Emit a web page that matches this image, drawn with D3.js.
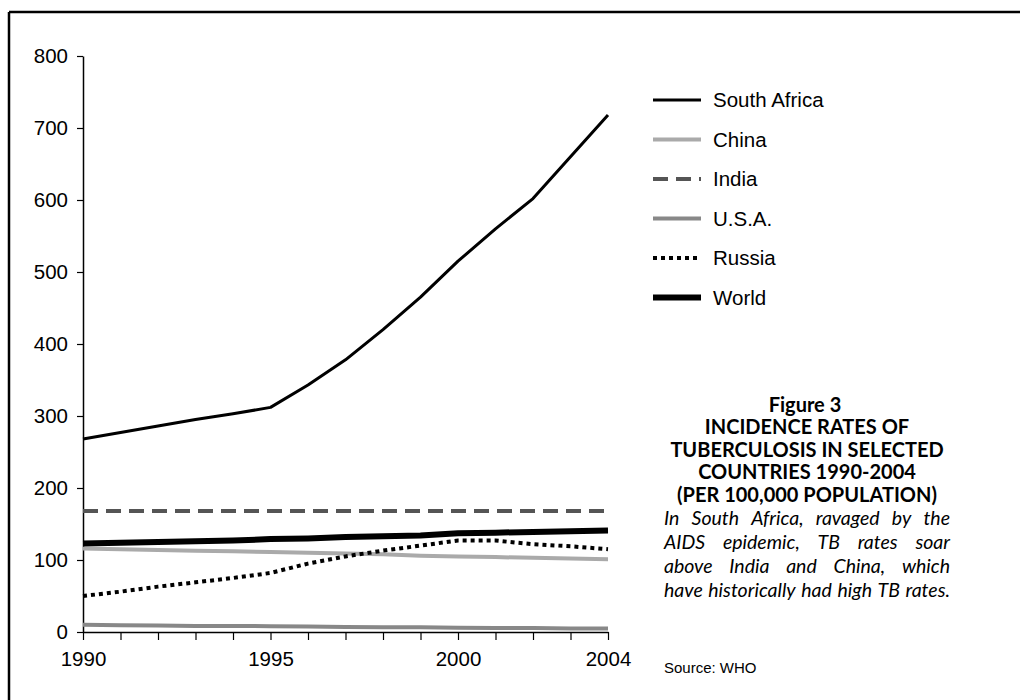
<!DOCTYPE html>
<html><head><meta charset="utf-8">
<script src="https://cdn.jsdelivr.net/npm/d3@7/dist/d3.min.js"></script>
<style>body{margin:0;background:#fff}svg{display:block}</style>
</head><body><svg id="c" width="1020" height="700"></svg>
<script>
const years = [1990,1991,1992,1993,1994,1995,1996,1997,1998,1999,2000,2001,2002,2003,2004];
const southAfrica = [268,277,286,295,303,312,343,378,420,465,515,560,602,660,718];
const china = [116,115,114,113,112,111,110,109,108,106,105,104,103,102,101];
const india = [168,168,168,168,168,168,168,168,168,168,168,168,168,168,168];
const usa = [10,9.5,9,8.5,8.5,8,7.5,7,6.5,6.5,6,5.5,5.5,5,5];
const russia = [50,56,63,69,75,82,95,105,113,120,127,127,122,119,115];
const world = [123,124,125,126,127,129,130,132,133,134,137,138,139,140,141];
const yTicks = [0,100,200,300,400,500,600,700,800];
const xTickLabels = [1990,1995,2000,2004];
const seriesNames = ["South Africa","China","India","U.S.A.","Russia","World"];
const titleLines = ["INCIDENCE RATES OF","TUBERCULOSIS IN SELECTED","COUNTRIES 1990-2004","(PER 100,000 POPULATION)"];
const captionLines = ["In South Africa, ravaged by the","AIDS epidemic, TB rates soar","above India and China, which","have historically had high TB rates."];

const svg = d3.select("#c");
const styles = {
  "South Africa": {stroke:"#000", w:3, dash:null},
  "China": {stroke:"#aaaaaa", w:4, dash:null},
  "India": {stroke:"#555555", w:4, dash:"15,8"},
  "U.S.A.": {stroke:"#888888", w:4, dash:null},
  "Russia": {stroke:"#000", w:4, dash:"4,4"},
  "World": {stroke:"#000", w:6, dash:null}
};
const values = {"South Africa":southAfrica,"China":china,"India":india,"U.S.A.":usa,"Russia":russia,"World":world};

// frame
svg.append("line").attr("x1",9).attr("y1",12).attr("x2",1020).attr("y2",12).attr("stroke","#000").attr("stroke-width",2.5);
svg.append("line").attr("x1",9).attr("y1",12).attr("x2",9).attr("y2",700).attr("stroke","#000").attr("stroke-width",2.5);

const x = d3.scaleLinear().domain([1990,2004]).range([83,608]);
const y = d3.scaleLinear().domain([0,800]).range([632,56]);

const font = "'Liberation Sans', Arial, sans-serif";

// y axis
const ya = svg.append("g").attr("transform","translate(83,0)")
  .call(d3.axisLeft(y).tickValues(yTicks).tickSize(6).tickPadding(9).tickSizeOuter(0));
ya.select(".domain").attr("stroke","#000").attr("stroke-width",1.5);
ya.selectAll(".tick line").attr("stroke","#000").attr("stroke-width",1.2);
ya.selectAll("text").attr("font-family",font).attr("font-size",20.5).attr("fill","#000");

// x axis
const xa = svg.append("g").attr("transform","translate(0,632)")
  .call(d3.axisBottom(x).tickValues(years).tickSize(8).tickPadding(11).tickSizeOuter(0)
    .tickFormat(d => xTickLabels.includes(d) ? String(d) : ""));
xa.select(".domain").attr("stroke","#000").attr("stroke-width",1.5);
xa.selectAll(".tick line").attr("stroke","#000").attr("stroke-width",1.2);
xa.selectAll("text").attr("font-family",font).attr("font-size",20.5).attr("fill","#000");

// lines
const drawOrder = ["U.S.A.","China","Russia","India","World","South Africa"];
const line = d3.line().x((d,i)=>x(years[i])).y(d=>y(d));
drawOrder.forEach(n => {
  const s = styles[n];
  svg.append("path").datum(values[n]).attr("d",line).attr("fill","none")
    .attr("stroke",s.stroke).attr("stroke-width",s.w)
    .attr("stroke-dasharray",s.dash).attr("stroke-linejoin","round");
});

// legend
const lg = svg.append("g");
seriesNames.forEach((n,i) => {
  const s = styles[n];
  const yy = 100 + i*39.5;
  lg.append("line").attr("x1",653).attr("x2",701).attr("y1",yy).attr("y2",yy)
    .attr("stroke",s.stroke).attr("stroke-width",s.w).attr("stroke-dasharray",s.dash);
  lg.append("text").attr("x",713).attr("y",yy).attr("dy","0.35em")
    .attr("font-family",font).attr("font-size",20.5).attr("fill","#000").text(n);
});

// figure title
const tf = "Lato, 'Open Sans', sans-serif";
svg.append("text").attr("x",805).attr("y",412).attr("text-anchor","middle")
  .attr("font-family",tf).attr("font-weight","bold").attr("font-size",20).text("Figure 3");
titleLines.forEach((t,i)=>{
  svg.append("text").attr("x",807).attr("y",434+i*22.5).attr("text-anchor","middle")
    .attr("font-family",tf).attr("font-weight","bold").attr("font-size",20).text(t);
});

// justified caption
const cx0 = 664, cx1 = 950;
captionLines.forEach((t,i)=>{
  const words = t.split(" ");
  const g = svg.append("g");
  const nodes = words.map(w => g.append("text").attr("font-family",tf).attr("font-style","italic")
    .attr("font-size",19.5).attr("y",525+i*24).text(w));
  const widths = nodes.map(n => n.node().getComputedTextLength());
  const total = d3.sum(widths);
  const gap = (cx1-cx0-total)/(words.length-1);
  let xx = cx0;
  nodes.forEach((n,k)=>{ n.attr("x",xx); xx += widths[k]+gap; });
});

svg.append("text").attr("x",664).attr("y",673).attr("font-family",font).attr("font-size",15).text("Source: WHO");
</script></body></html>
